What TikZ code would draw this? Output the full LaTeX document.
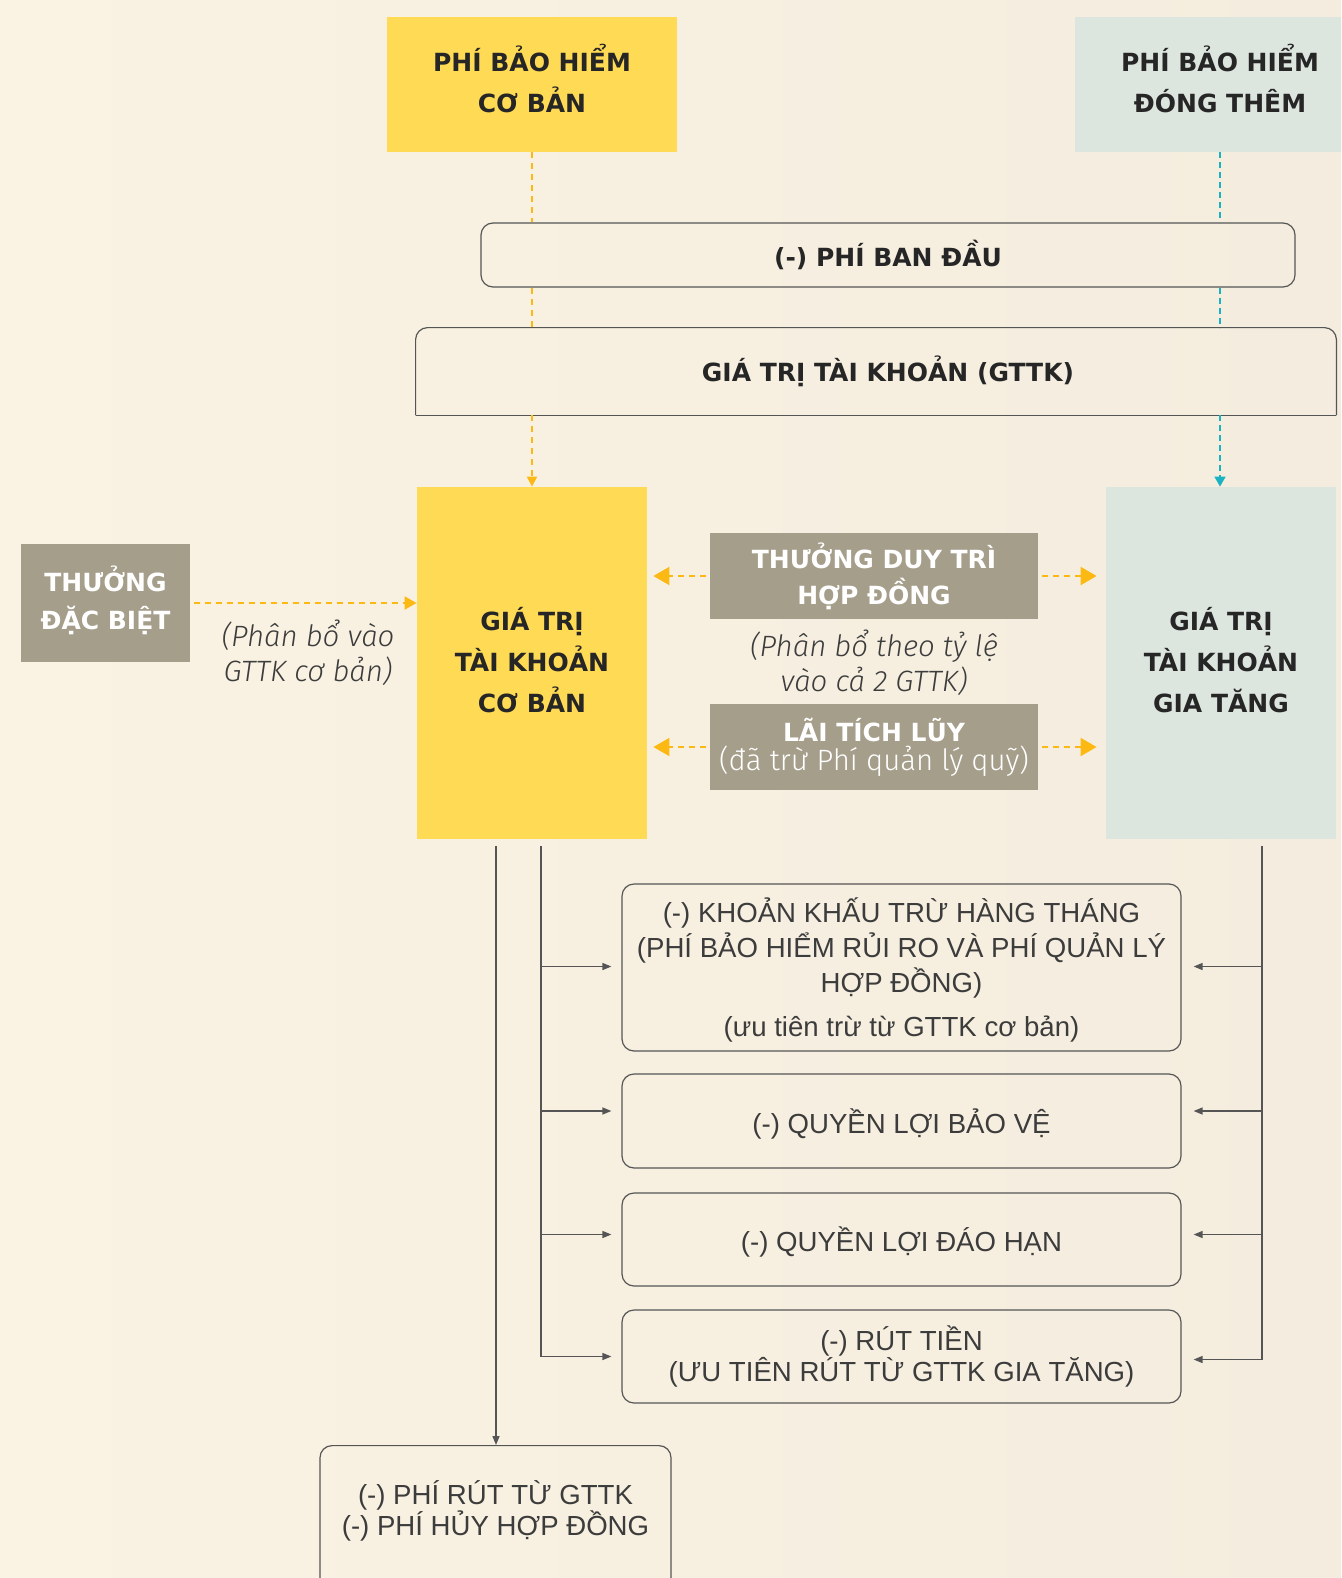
\documentclass[tikz,border=0pt]{standalone}
\usepackage{fontspec}
\setmainfont{DejaVu Sans}
\newfontfamily\boxfamily{Liberation Sans}
\newfontfamily\notefamily{Fira Sans Light}[ItalicFont={Fira Sans Light Italic}]
\usetikzlibrary{positioning, arrows.meta}

\definecolor{bglight}{HTML}{FAF3E3}
\definecolor{bgcream}{HTML}{EFE8D9}
\definecolor{bgright}{HTML}{F4EDDF}
\definecolor{accyellow}{HTML}{FFDA55}
\definecolor{accblue}{HTML}{DDE5DF}
\definecolor{boxgrey}{HTML}{A59E8B}
\definecolor{dashyellow}{HTML}{FDB913}
\definecolor{dashteal}{HTML}{1BB3C2}
\definecolor{inkgrey}{HTML}{3C3C3C}
\definecolor{linegrey}{HTML}{555555}

\newcommand{\hdrfont}{\rmfamily\bfseries\fontsize{12.5pt}{20.5pt}\selectfont}
\newcommand{\lightfont}{\boxfamily\fontsize{13.8pt}{17.5pt}\selectfont}
\newcommand{\notefont}{\notefamily\fontsize{14.7pt}{17.5pt}\selectfont}

\tikzset{
	fillbox/.style={draw=none, inner sep=0pt, align=center, text=black!85, font=\hdrfont},
	greybox/.style={fillbox, fill=boxgrey, text=white},
	rbox/.style={draw=linegrey, line width=0.6pt, rounded corners=6pt, inner sep=0pt,
		align=center, text=inkgrey, font=\lightfont, minimum width=279.5pt, text depth=0pt},
	note/.style={align=center, inner sep=0pt, text=inkgrey, font=\notefont\itshape},
	ydash/.style={dashyellow, line width=1pt, dash pattern=on 3pt off 2.5pt},
	tdash/.style={dashteal, line width=0.8pt, dash pattern=on 3pt off 2pt},
	flowline/.style={linegrey, line width=0.7pt},
	flowarrow/.style={flowline, -{Triangle[length=4.5pt,width=3.5pt]}}
}

\begin{document}
\begin{tikzpicture}[x=0.5pt, y=-0.5pt]
	\useasboundingbox (0,0) rectangle (1341,1578);
	\clip (0,0) rectangle (1341,1578);
	\shade[left color=bglight, middle color=bgcream, right color=bgright] (0,0) rectangle (1341,1578);

	% premiums
	\node[fillbox, fill=accyellow, minimum width=145pt, minimum height=67.5pt, text depth=6pt] (coban) at (532,84.5) {PHÍ BẢO HIỂM\\CƠ BẢN};
	\node[fillbox, fill=accblue, minimum width=145pt, minimum height=67.5pt, text depth=6pt] (dongthem) at (1220,84.5) {PHÍ BẢO HIỂM\\ĐÓNG THÊM};

	% deductions at the top
	\node[rbox, font=\hdrfont, text=black!85, text depth=2pt, minimum width=407pt, minimum height=32pt] (bandau) at (888,255) {(-) PHÍ BAN ĐẦU};
	\node[fillbox, minimum width=460pt, minimum height=43.5pt] (gttk) at (876,371.5) {};
	\draw[flowline, line width=0.6pt] (gttk.south west) [rounded corners=6pt] -- (gttk.north west) -- (gttk.north east) -- (gttk.south east);
	\draw[flowline, line width=0.6pt] (gttk.south west) -- (gttk.south east);
	\node[fillbox] at (888,371.5) {GIÁ TRỊ TÀI KHOẢN (GTTK)};

	% the two accounts
	\node[fillbox, fill=accyellow, minimum width=115pt, minimum height=176pt, text depth=3pt] (gtcoban) at (532,663) {GIÁ TRỊ\\TÀI KHOẢN\\CƠ BẢN};
	\node[fillbox, fill=accblue, minimum width=115pt, minimum height=176pt, text depth=3pt] (gtgiatang) at (1221,663) {GIÁ TRỊ\\TÀI KHOẢN\\GIA TĂNG};

	% bonuses
	\node[greybox, minimum width=84.5pt, minimum height=59pt, text depth=5pt] (thuongdb) at (105.5,603) {THƯỞNG\\[-1.5pt]ĐẶC BIỆT};
	\node[note] at (308,652.5) {(Phân bổ vào\\GTTK cơ bản)};
	\node[greybox, minimum width=164pt, minimum height=43pt, text depth=2pt] (thuongdt) at (874,576) {THƯỞNG DUY TRÌ\\[-2.5pt]HỢP ĐỒNG};
	\node[note] at (874,663) {(Phân bổ theo tỷ lệ\\vào cả 2 GTTK)};
	\node[greybox, font=\notefont, minimum width=164pt, minimum height=43pt] (laitl) at (874,747) {{\hdrfont LÃI TÍCH LŨY}\\[-3pt](đã trừ Phí quản lý quỹ)};

	% deductions at the bottom
	\node[rbox, minimum height=83.5pt] (khautru) at (901.5,967.5) {(-) KHOẢN KHẤU TRỪ HÀNG THÁNG\\(PHÍ BẢO HIỂM RỦI RO VÀ PHÍ QUẢN LÝ\\HỢP ĐỒNG)\\[4.5pt](ưu tiên trừ từ GTTK cơ bản)};
	\node[rbox, minimum height=47pt] (baove) at (901.5,1121) {(-) QUYỀN LỢI BẢO VỆ};
	\node[rbox, minimum height=46.5pt] (daohan) at (901.5,1239.5) {(-) QUYỀN LỢI ĐÁO HẠN};
	\node[rbox, minimum height=46.5pt, text depth=3pt] (ruttien) at (901.5,1356.5) {(-) RÚT TIỀN\\[-2pt](ƯU TIÊN RÚT TỪ GTTK GIA TĂNG)};
	\node[rbox, anchor=north, minimum width=175.5pt, minimum height=85pt] (phirut) at (495.5,1445) {};
	\node[align=center, inner sep=0pt, text=inkgrey, font=\lightfont, text depth=0pt] at (495.5,1508) {(-) PHÍ RÚT TỪ GTTK\\[-2pt](-) PHÍ HỦY HỢP ĐỒNG};

	% premium flows
	\draw[ydash] (coban.south) -- (coban.south |- bandau.north);
	\draw[ydash] (coban.south |- bandau.south) -- (coban.south |- gttk.north);
	\draw[ydash, -{Triangle[length=5pt,width=5pt]}] (coban.south |- gttk.south) -- (gtcoban.north);
	\draw[tdash] (dongthem.south) -- (dongthem.south |- bandau.north);
	\draw[tdash] (dongthem.south |- bandau.south) -- (dongthem.south |- gttk.north);
	\draw[tdash, -{Triangle[length=5pt,width=5.5pt]}] (dongthem.south |- gttk.south) -- (dongthem.south |- gtgiatang.north);

	% bonus flows
	\draw[ydash, -{Triangle[length=6pt,width=6.5pt]}] ([xshift=2pt]thuongdb.east) -- (thuongdb.east -| gtcoban.west);
	\foreach \b in {thuongdt, laitl} {
		\draw[ydash, -{Triangle[length=8pt,width=9pt]}] ([xshift=-2pt]\b.west) -- ([xshift=3pt]\b.west -| gtcoban.east);
		\draw[ydash, -{Triangle[length=8pt,width=9pt]}] ([xshift=2pt]\b.east) -- ([xshift=-4.5pt]\b.east -| gtgiatang.west);
	}

	% outflows
	\coordinate (ltrunk) at (496,846);
	\coordinate (lsplit) at (541,846);
	\coordinate (rsplit) at (1262,846);
	\draw[flowarrow] (ltrunk) -- (ltrunk |- phirut.north);
	\draw[flowarrow] (lsplit) |- ([xshift=-5pt]ruttien.west);
	\draw[flowarrow] (rsplit) |- ([xshift=6pt, yshift=-1.5pt]ruttien.east);
	\foreach \b/\s in {khautru/0.5pt, baove/5pt, daohan/2.5pt} {
		\draw[flowarrow] ([yshift=\s]lsplit |- \b.west) -- ([xshift=-5pt, yshift=\s]\b.west);
		\draw[flowarrow] ([yshift=\s]rsplit |- \b.east) -- ([xshift=6pt, yshift=\s]\b.east);
	}
\end{tikzpicture}
\end{document}
